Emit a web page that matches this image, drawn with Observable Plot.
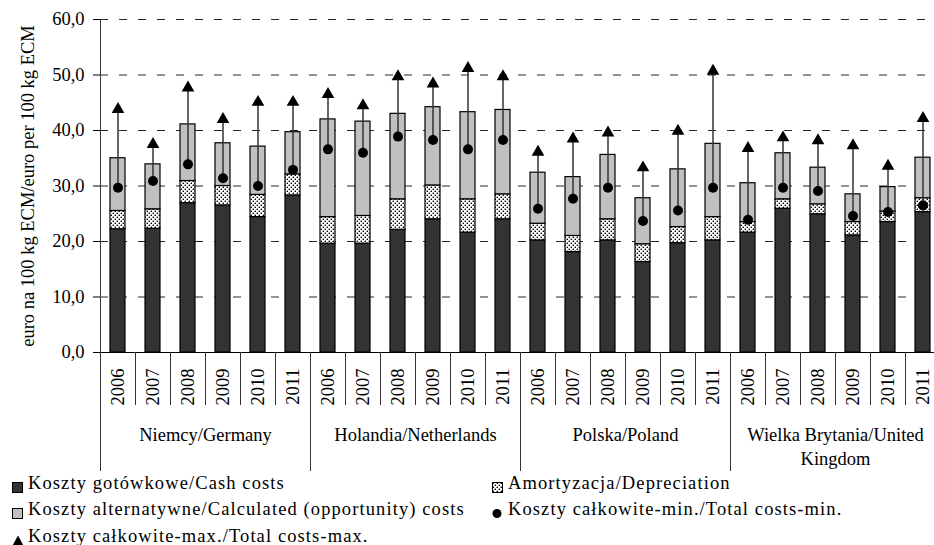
<!DOCTYPE html>
<html><head><meta charset="utf-8">
<script src="https://cdn.jsdelivr.net/npm/d3@7"></script>
<script src="https://cdn.jsdelivr.net/npm/@observablehq/plot@0.6"></script>
<style>
html,body{margin:0;padding:0;background:#fff;overflow:hidden;}
body{font-family:"Liberation Serif","Times New Roman",serif;color:#000;width:934px;height:545px;position:relative;}
.lt{position:absolute;white-space:nowrap;font-size:18.5px;line-height:18.5px;letter-spacing:1.1px;}
.ls{position:absolute;}
</style></head><body>
<div id="chart"></div>
<div id="legend"></div>
<script>
const countries = ["Niemcy/Germany", "Holandia/Netherlands", "Polska/Poland", "Wielka Brytania/United\nKingdom"];
const years = ["2006", "2007", "2008", "2009", "2010", "2011"];
const yTicks = [0, 10, 20, 30, 40, 50, 60];
const yTitle = "euro na 100 kg ECM/euro per 100 kg ECM";

// Koszty gotówkowe / Cash costs
const cashCosts = [22.2, 22.3, 26.9, 26.5, 24.4, 28.3,
                   19.6, 19.6, 22.1, 24.0, 21.6, 24.0,
                   20.2, 18.1, 20.2, 16.3, 19.7, 20.2,
                   21.6, 25.9, 24.9, 21.1, 23.5, 25.3];
// Amortyzacja / Depreciation
const depreciation = [3.3, 3.5, 4.0, 3.5, 4.0, 3.8,
                      4.8, 5.0, 5.5, 6.1, 6.0, 4.5,
                      3.0, 2.9, 3.8, 3.2, 2.9, 4.2,
                      1.9, 1.7, 1.8, 2.4, 1.9, 2.5];
// Koszty alternatywne / Calculated (opportunity) costs
const opportunity = [9.5, 8.1, 10.2, 7.7, 8.7, 7.6,
                     17.6, 17.0, 15.4, 14.1, 15.7, 15.2,
                     9.2, 10.6, 11.6, 8.3, 10.4, 13.2,
                     7.0, 8.3, 6.6, 5.0, 4.4, 7.3];
// Koszty całkowite-min. / Total costs-min.
const totalMin = [29.7, 30.9, 33.9, 31.4, 30.0, 32.9,
                  36.6, 36.0, 38.9, 38.3, 36.6, 38.3,
                  25.9, 27.7, 29.7, 23.7, 25.6, 29.7,
                  23.9, 29.7, 29.1, 24.6, 25.3, 26.5];
// Koszty całkowite-max. / Total costs-max.
const totalMax = [43.8, 37.5, 47.7, 42.0, 45.1, 45.1,
                  46.5, 44.5, 49.7, 48.4, 51.2, 49.7,
                  36.1, 38.5, 39.6, 33.3, 39.9, 50.7,
                  36.8, 38.7, 38.2, 37.3, 33.6, 42.2];

const legendItems = [
  {label: "Koszty gotówkowe/Cash costs", sym: "cash"},
  {label: "Amortyzacja/Depreciation", sym: "dep"},
  {label: "Koszty alternatywne/Calculated (opportunity) costs", sym: "opp"},
  {label: "Koszty całkowite-min./Total costs-min.", sym: "min"},
  {label: "Koszty całkowite-max./Total costs-max.", sym: "max"}
];

const keys = [];
countries.forEach(c => years.forEach(y => keys.push(c + "|" + y)));
const stackRows = [];
keys.forEach((key, i) => {
  stackRows.push({key, part: "cash", value: cashCosts[i]});
  stackRows.push({key, part: "dep", value: depreciation[i]});
  stackRows.push({key, part: "opp", value: opportunity[i]});
});
const points = keys.map((key, i) => ({key, min: totalMin[i], max: totalMax[i]}));
const groupStarts = countries.map(c => c + "|" + years[0]);
const halfStep = 17.5;

const chart = Plot.plot({
  width: 934, height: 470,
  marginLeft: 100, marginRight: 0, marginTop: 19, marginBottom: 118,
  style: {fontFamily: "Liberation Serif", fontSize: "18.5px", color: "black", background: "white", overflow: "visible"},
  x: {type: "band", domain: keys, range: [100, 940], paddingInner: 0.57, paddingOuter: 0.285, label: null},
  y: {domain: [0, 60], label: null},
  color: {domain: ["cash", "dep", "opp"], range: ["#333333", "url(#dots)", "#c0c0c0"]},
  marks: [
    Plot.gridY(yTicks.slice(1), {stroke: "black", strokeOpacity: 0.85, strokeDasharray: "8,11"}),
    Plot.barY(stackRows, {x: "key", y: "value", fill: "part", stroke: "black", strokeWidth: 1.2}),
    Plot.ruleY([0], {stroke: "black"}),
    Plot.ruleX([keys[0]], {dx: -halfStep, y1: 0, y2: 60, stroke: "#333"}),
    Plot.axisX({tickSize: 53, dx: -halfStep, tickFormat: () => "", stroke: "#333"}),
    Plot.axisX(groupStarts, {tickSize: 119, dx: -halfStep, tickFormat: () => "", stroke: "#333"}),
    Plot.axisX({tickSize: 0, tickPadding: 16, tickRotate: -90, tickFormat: k => k.split("|")[1]}),
    Plot.text(countries, {x: c => c + "|" + years[3], y: () => 0, dx: -halfStep, dy: 72, lineAnchor: "top", lineHeight: 1.28, textAnchor: "middle", fill: "black"}),
    Plot.axisY({ticks: yTicks, tickSize: 7, tickPadding: 9, tickFormat: d => d.toFixed(1).replace(".", ",")}),
    Plot.text([yTitle], {frameAnchor: "left", rotate: -90, dx: -72, textAnchor: "middle", lineAnchor: "middle", fill: "black"}),
    Plot.ruleX(points, {x: "key", y1: "min", y2: "max", stroke: "#333", strokeWidth: 1.5}),
    Plot.dot(points, {x: "key", y: "min", r: 5, fill: "black"}),
    Plot.dot(points, {x: "key", y: "max", symbol: "triangle", r: 4.7, fill: "black"})
  ]
});

const patternInner = '<rect width="4" height="4" fill="white"/><rect x="0.6" y="0.6" width="1.4" height="1.4" fill="black"/><rect x="2.6" y="2.6" width="1.4" height="1.4" fill="black"/>';
chart.insertAdjacentHTML("afterbegin", '<defs><pattern id="dots" width="4" height="4" patternUnits="userSpaceOnUse">' + patternInner + '</pattern></defs>');
document.getElementById("chart").appendChild(chart);

// legend
const legend = document.getElementById("legend");
const cols = [12, 492];
const baselines = [489.3, 515.7, 542];
function symbolSvg(sym) {
  if (sym === "cash") return '<svg width="11" height="11"><rect x="0.5" y="0.5" width="10" height="10" fill="#333333" stroke="black"/></svg>';
  if (sym === "opp") return '<svg width="11" height="11"><rect x="0.5" y="0.5" width="10" height="10" fill="#c0c0c0" stroke="black"/></svg>';
  if (sym === "dep") return '<svg width="11" height="11"><defs><pattern id="dots2" width="4" height="4" patternUnits="userSpaceOnUse">' + patternInner + '</pattern></defs><rect x="0.5" y="0.5" width="10" height="10" fill="url(#dots2)" stroke="black"/></svg>';
  if (sym === "min") return '<svg width="11" height="11"><circle cx="5" cy="5.5" r="4.5" fill="black"/></svg>';
  return '<svg width="12" height="11"><path d="M6,0.5 L11.5,10.5 L0.5,10.5 Z" fill="black"/></svg>';
}
legendItems.forEach((it, i) => {
  const col = i % 2, row = Math.floor(i / 2);
  const bl = baselines[row];
  const s = document.createElement("div");
  s.className = "ls";
  s.style.left = cols[col] + "px";
  s.style.top = (bl - 10.5) + "px";
  s.innerHTML = symbolSvg(it.sym);
  legend.appendChild(s);
  const t = document.createElement("div");
  t.className = "lt";
  t.style.left = (cols[col] + 16) + "px";
  t.style.top = (bl - 15.5) + "px";
  t.textContent = it.label;
  legend.appendChild(t);
});
</script>
</body></html>
